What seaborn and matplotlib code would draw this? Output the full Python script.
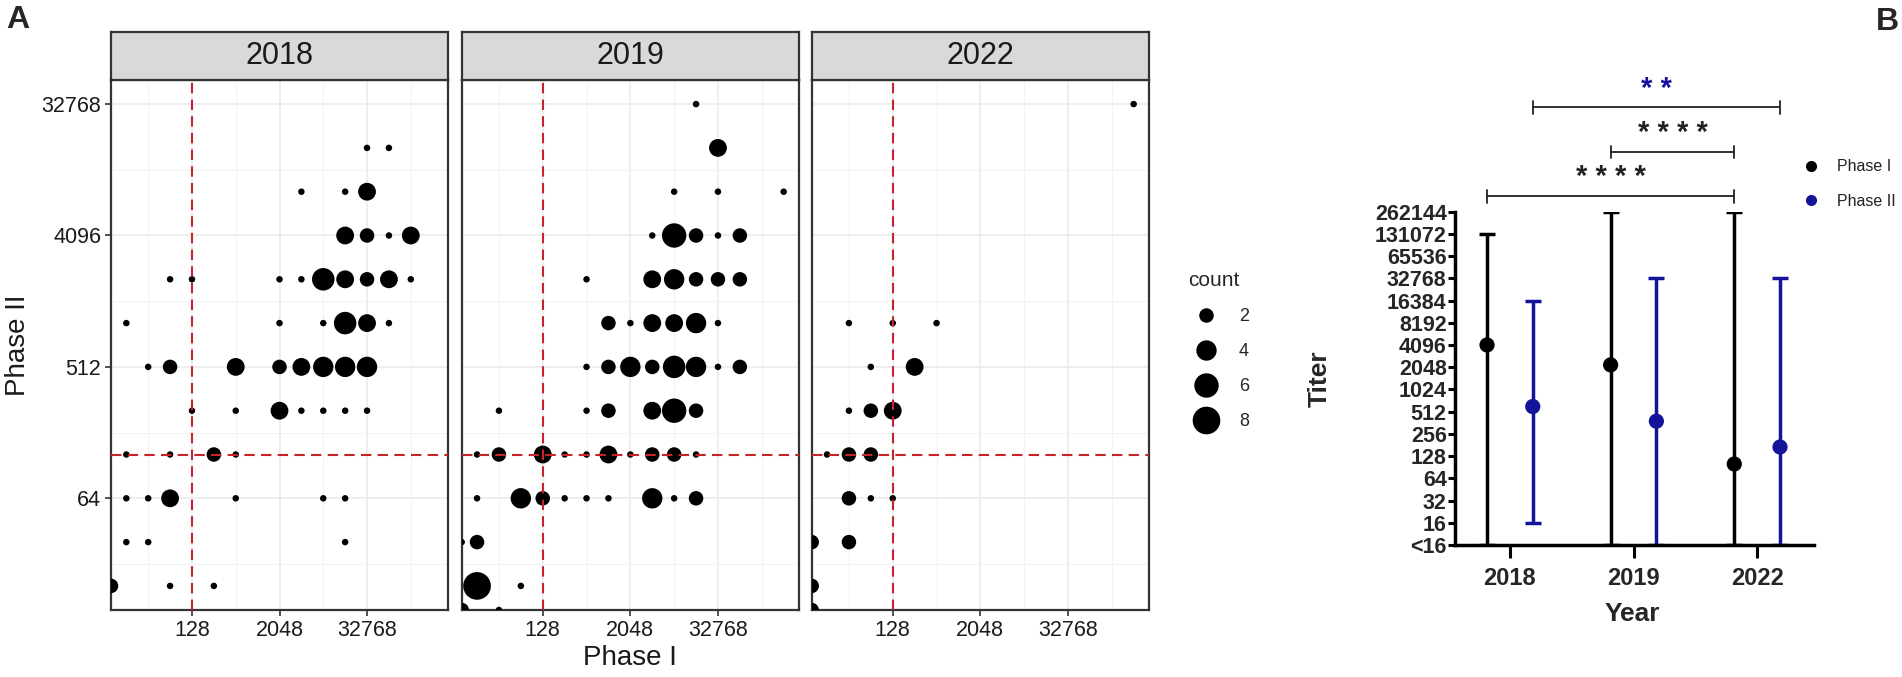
import numpy as np
import pandas as pd
import matplotlib
matplotlib.use('Agg')
import matplotlib.pyplot as plt
from matplotlib.lines import Line2D
from matplotlib.ticker import FixedLocator, NullFormatter
import seaborn as sns

# ---------------- data: panel A (Phase I titer, Phase II titer, count); 0 = "<16"
years = ['2018', '2019', '2022']

p1_2018 = [32768, 65536,
           4096, 16384, 32768,
           16384, 32768, 65536, 131072,
           64, 128, 2048, 4096, 8192, 16384, 32768, 65536, 131072,
           16, 2048, 8192, 16384, 32768, 65536,
           32, 64, 512, 2048, 4096, 8192, 16384, 32768,
           128, 512, 2048, 4096, 8192, 16384, 32768,
           16, 64, 256, 512,
           16, 32, 64, 512, 8192, 16384,
           16, 32, 16384,
           0, 64, 256]
p2_2018 = [16384, 16384,
           8192, 8192, 8192,
           4096, 4096, 4096, 4096,
           2048, 2048, 2048, 2048, 2048, 2048, 2048, 2048, 2048,
           1024, 1024, 1024, 1024, 1024, 1024,
           512, 512, 512, 512, 512, 512, 512, 512,
           256, 256, 256, 256, 256, 256, 256,
           128, 128, 128, 128,
           64, 64, 64, 64, 64, 64,
           32, 32, 32,
           16, 16, 16]
n_2018 = [1, 1,
          1, 1, 3,
          3, 2, 1, 3,
          1, 1, 1, 1, 5, 3, 2, 3, 1,
          1, 1, 1, 5, 3, 1,
          1, 2, 3, 2, 3, 4, 4, 4,
          1, 1, 3, 1, 1, 1, 1,
          1, 1, 2, 1,
          1, 1, 3, 1, 1, 1,
          1, 1, 1,
          2, 1, 1]

p1_2019 = [16384,
           32768,
           8192, 32768, 262144,
           4096, 8192, 16384, 32768, 65536,
           512, 4096, 8192, 16384, 32768, 65536,
           1024, 2048, 4096, 8192, 16384, 32768,
           512, 1024, 2048, 4096, 8192, 16384, 32768, 65536,
           32, 512, 1024, 4096, 8192, 16384,
           16, 32, 128, 256, 512, 1024, 2048, 4096, 8192, 16384,
           16, 64, 128, 256, 512, 1024, 4096, 8192, 16384,
           0, 16,
           16, 64,
           0, 32]
p2_2019 = [32768,
           16384,
           8192, 8192, 8192,
           4096, 4096, 4096, 4096, 4096,
           2048, 2048, 2048, 2048, 2048, 2048,
           1024, 1024, 1024, 1024, 1024, 1024,
           512, 512, 512, 512, 512, 512, 512, 512,
           256, 256, 256, 256, 256, 256,
           128, 128, 128, 128, 128, 128, 128, 128, 128, 128,
           64, 64, 64, 64, 64, 64, 64, 64, 64,
           32, 32,
           16, 16,
           0, 0]
n_2019 = [1,
          3,
          1, 1, 1,
          1, 6, 2, 1, 2,
          1, 3, 4, 2, 2, 2,
          2, 1, 3, 3, 4, 1,
          1, 2, 4, 2, 5, 4, 1, 2,
          1, 1, 2, 3, 6, 2,
          1, 2, 3, 1, 1, 3, 1, 2, 2, 1,
          1, 4, 2, 1, 1, 1, 4, 1, 2,
          1, 2,
          8, 1,
          2, 1]

p1_2022 = [262144,
           32, 128, 512,
           64, 256,
           32, 64, 128,
           16, 32, 64,
           32, 64, 128,
           0, 32,
           0,
           0]
p2_2022 = [32768,
           1024, 1024, 1024,
           512, 512,
           256, 256, 256,
           128, 128, 128,
           64, 64, 64,
           32, 32,
           16,
           0]
n_2022 = [1,
          1, 1, 1,
          1, 3,
          1, 2, 3,
          1, 2, 2,
          2, 1, 1,
          2, 2,
          2,
          2]

# ---------------- data: panel B (median and range)
p1_med = [4096, 2200, 100]
p1_lo = [8, 8, 8]
p1_hi = [131072, 262144, 262144]
p2_med = [600, 380, 170]
p2_lo = [16, 8, 8]
p2_hi = [16384, 32768, 32768]
titer_labels = ['<16', '16', '32', '64', '128', '256', '512', '1024', '2048',
                '4096', '8192', '16384', '32768', '65536', '131072', '262144']

# ---------------- style
sns.set_theme(style='white')
plt.rcParams['font.family'] = ['Liberation Sans', 'DejaVu Sans']

W, H = 1902, 677
fig = plt.figure(figsize=(W / 100, H / 100), dpi=100)


def px_axes(x0, y0, x1, y1):
    return fig.add_axes([x0 / W, 1 - y1 / H, (x1 - x0) / W, (y1 - y0) / H])


RED = '#c8232c'
EDGE = '#333333'
BLUE = '#14149b'
size_map = {c: ((6.5 + 8 * np.sqrt(c - 1)) * 0.72) ** 2 for c in range(1, 10)}

XLIM = (2 ** 3.3, 2 ** 18.7)
YLIM = (2 ** 3.45, 2 ** 15.55)

facet_data = [(p1_2018, p2_2018, n_2018), (p1_2019, p2_2019, n_2019), (p1_2022, p2_2022, n_2022)]
facet_x = [(111, 448), (461.7, 799), (811.7, 1149)]

for i, yr in enumerate(years):
    x0, x1 = facet_x[i]
    p1, p2, n = facet_data[i]
    df = pd.DataFrame({'phase1': p1, 'phase2': p2, 'count': n}).astype(float)
    # titers below 16 are drawn on the panel edge
    df.loc[df['phase1'] <= 0, 'phase1'] = XLIM[0]
    df.loc[df['phase2'] <= 0, 'phase2'] = YLIM[0]

    ax = px_axes(x0, 80, x1, 610)
    ax.set_xscale('log', base=2)
    ax.set_yscale('log', base=2)
    sns.scatterplot(data=df, x='phase1', y='phase2', size='count', sizes=size_map,
                    color='black', linewidth=0, legend=False, ax=ax, zorder=3)
    ax.set_xlim(XLIM)
    ax.set_ylim(YLIM)
    ax.axvline(128, color=RED, ls=(0, (5, 3)), lw=1.5, zorder=4)
    ax.axhline(128, color=RED, ls=(0, (5, 3)), lw=1.5, zorder=4)

    ax.xaxis.set_major_locator(FixedLocator([128, 2048, 32768]))
    ax.xaxis.set_minor_locator(FixedLocator([32, 512, 8192, 131072]))
    ax.yaxis.set_major_locator(FixedLocator([64, 512, 4096, 32768]))
    ax.yaxis.set_minor_locator(FixedLocator([2 ** 4.5, 2 ** 7.5, 2 ** 10.5, 2 ** 13.5]))
    ax.set_xticklabels(['128', '2048', '32768'])
    ax.xaxis.set_minor_formatter(NullFormatter())
    ax.yaxis.set_minor_formatter(NullFormatter())
    if i == 0:
        ax.set_yticklabels(['64', '512', '4096', '32768'])
    else:
        ax.set_yticklabels([])
    ax.grid(which='major', color='#ebebeb', lw=1.2)
    ax.grid(which='minor', color='#f2f2f2', lw=0.7)
    ax.set_axisbelow(True)
    ax.tick_params(which='major', length=4, width=1.2, color=EDGE, labelsize=15.5,
                   labelcolor='#1a1a1a', pad=3, bottom=True, left=(i == 0))
    ax.tick_params(which='minor', length=0)
    ax.set_xlabel('')
    ax.set_ylabel('')
    for sp in ax.spines.values():
        sp.set_color(EDGE)
        sp.set_linewidth(1.6)

    strip = px_axes(x0, 32, x1, 80)
    strip.set_facecolor('#d9d9d9')
    strip.set_xticks([])
    strip.set_yticks([])
    for sp in strip.spines.values():
        sp.set_color(EDGE)
        sp.set_linewidth(1.6)
    strip.text(0.5, 0.5, yr, ha='center', va='center', fontsize=22, color='#1a1a1a',
               transform=strip.transAxes)

fig.text(630 / W, 1 - 658 / H, 'Phase I', ha='center', va='center', fontsize=20, color='#1a1a1a')
fig.text(18 / W, 1 - 345 / H, 'Phase II', ha='center', va='center', fontsize=20,
         rotation=90, color='#1a1a1a')

cnt_handles = [Line2D([], [], marker='o', ls='', color='black', markeredgewidth=0,
                      markersize=np.sqrt(size_map[c])) for c in [2, 4, 6, 8]]
fig.legend(cnt_handles, ['2', '4', '6', '8'], title='count', loc='upper left',
           bbox_to_anchor=(1172 / W, 1 - 255 / H), frameon=False, fontsize=13,
           title_fontsize=15, labelspacing=1.0, handletextpad=0.8, alignment='left')

# ---------------- panel B
axB = px_axes(1455, 211.6, 1814, 545)
axB.set_yscale('log', base=2)
pos = np.arange(len(years))
off = 0.185
for med, lo, hi, dx, col in [(p1_med, p1_lo, p1_hi, -off, 'black'),
                             (p2_med, p2_lo, p2_hi, off, BLUE)]:
    med, lo, hi = np.array(med, float), np.array(lo, float), np.array(hi, float)
    axB.errorbar(pos + dx, med, yerr=[med - lo, hi - med], fmt='none', ecolor=col,
                 elinewidth=2.5, capsize=6, capthick=2.5, zorder=2)
dfB = pd.DataFrame({'x': np.concatenate([pos - off, pos + off]),
                    'titer': p1_med + p2_med,
                    'phase': ['Phase I'] * 3 + ['Phase II'] * 3})
sns.scatterplot(data=dfB, x='x', y='titer', hue='phase',
                palette={'Phase I': 'black', 'Phase II': BLUE},
                s=120, linewidth=0, legend=False, ax=axB, zorder=3)
axB.set_ylim(8, 262144)
axB.set_xlim(-0.444, 2.46)
axB.yaxis.set_major_locator(FixedLocator([2 ** k for k in range(3, 19)]))
axB.yaxis.set_minor_locator(FixedLocator([]))
axB.set_yticklabels(titer_labels)
axB.set_xticks(pos)
axB.set_xticklabels(years)
axB.grid(False)
axB.spines['top'].set_visible(False)
axB.spines['right'].set_visible(False)
for s in ['left', 'bottom']:
    axB.spines[s].set_linewidth(2.5)
    axB.spines[s].set_color('black')
axB.tick_params(axis='y', length=5, width=2.2, color='black', labelsize=15.5, pad=1, left=True)
axB.tick_params(axis='x', length=9, width=2.2, color='black', labelsize=17, pad=7, bottom=True)
for lab in axB.get_xticklabels() + axB.get_yticklabels():
    lab.set_fontweight('bold')
axB.set_xlabel('')
axB.set_ylabel('')
fig.text(1320 / W, 1 - 379 / H, 'Titer', ha='center', va='center', fontsize=19,
         fontweight='bold', rotation=90)
fig.text(1632 / W, 1 - 614 / H, 'Year', ha='center', va='center', fontsize=19,
         fontweight='bold')


def bracket(xa, xb, ylog, text, tcolor, tlog):
    y = 2 ** ylog
    axB.plot([xa, xb], [y, y], color='#222222', lw=1.3, clip_on=False)
    for xe in (xa, xb):
        axB.plot([xe, xe], [y * 2 ** -0.28, y * 2 ** 0.28], color='#222222', lw=1.3, clip_on=False)
    axB.text((xa + xb) / 2, 2 ** tlog, text, ha='center', va='center', fontsize=21,
             fontweight='bold', color=tcolor, clip_on=False)


bracket(-off, 2 - off, 18.68, '* * * *', '#222222', 19.55)
bracket(1 - off, 2 - off, 20.69, '* * * *', '#222222', 21.55)
bracket(off, 2 + off, 22.69, '* *', BLUE, 23.5)

ph_handles = [Line2D([], [], marker='o', ls='', color=c, markeredgewidth=0, markersize=8)
              for c in ['black', BLUE]]
fig.legend(ph_handles, ['Phase I', 'Phase II'], loc='upper left',
           bbox_to_anchor=(1781 / W, 1 - 145 / H), frameon=False, fontsize=11.5,
           labelspacing=1.2, handlelength=2.0, handletextpad=0.6, labelcolor='#222222')

fig.text(18 / W, 1 - 20 / H, 'A', ha='center', va='center', fontsize=23, fontweight='bold')
fig.text(1887 / W, 1 - 22 / H, 'B', ha='center', va='center', fontsize=23, fontweight='bold')

fig.savefig('out.png', dpi=100)
